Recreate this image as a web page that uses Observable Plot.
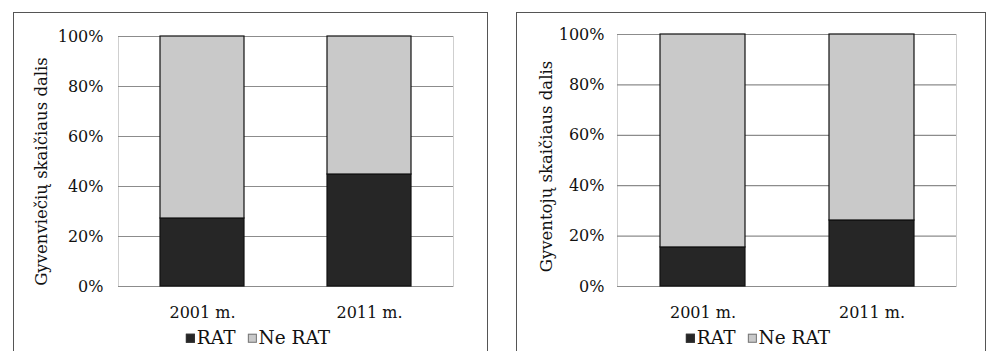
<!DOCTYPE html>
<html>
<head>
<meta charset="utf-8">
<script src="https://cdn.jsdelivr.net/npm/d3@7"></script>
<script src="https://cdn.jsdelivr.net/npm/@observablehq/plot@0.6"></script>
<style>
  html, body { margin: 0; padding: 0; background: #fff; }
  body { width: 987px; height: 351px; position: relative; overflow: hidden; font-family: "DejaVu Serif", serif; }
  .frame { position: absolute; border: 1px solid #555; box-sizing: border-box; }
  .chart { position: absolute; top: 0; }
  .legend { position: absolute; font-size: 18.5px; color: #111; white-space: nowrap; transform: translate(-50%, -50%); line-height: 1; }
  .sw { display: inline-block; width: 9px; height: 9px; box-sizing: border-box; border: 1px solid #333; margin-right: 2px; vertical-align: 1px; }
</style>
</head>
<body>
<div class="frame" style="left:13px; top:12px; width:475px; height:360px;"></div>
<div class="frame" style="left:516px; top:12px; width:470px; height:360px;"></div>
<div id="c1" class="chart" style="left:0px; width:494px;"></div>
<div id="c2" class="chart" style="left:494px; width:493px;"></div>
<div class="legend" id="lg1" style="left:258px; top:338px;"></div>
<div class="legend" id="lg2" style="left:758px; top:338px;"></div>
<script>
// Data
const years = ["2001 m.", "2011 m."];
const types = ["RAT", "Ne RAT"];
const settlementsRAT = [27.2, 44.8];
const settlementsNeRAT = [72.8, 55.2];
const populationRAT = [15.5, 26.2];
const populationNeRAT = [84.5, 73.8];
const yTicks = [0, 20, 40, 60, 80, 100];
const titles = ["Gyvenviečių skaičiaus dalis", "Gyventojų skaičiaus dalis"];
const colors = ["#262626", "#c9c9c9"];

function tidy(rat, nerat) {
  const out = [];
  years.forEach((y, i) => {
    out.push({year: y, type: types[0], value: rat[i]});
    out.push({year: y, type: types[1], value: nerat[i]});
  });
  return out;
}

const FONT = "'DejaVu Serif', serif";

function chart(data, title, opts) {
  return Plot.plot({
    width: opts.width,
    height: 325,
    marginLeft: opts.ml,
    marginRight: opts.mr,
    marginTop: opts.mt,
    marginBottom: 325 - 286,
    style: {background: "none", fontFamily: FONT, fontSize: "16px", color: "#111", overflow: "visible"},
    x: {domain: years, paddingInner: 0.5, paddingOuter: 0.25, label: null, tickSize: 0, tickPadding: 20},
    y: {domain: [0, 100], ticks: yTicks, tickFormat: d => d + "%", label: null, tickSize: 0, tickPadding: opts.tp},
    color: {domain: types, range: colors},
    marks: [
      Plot.frame({stroke: "#cfcfcf"}),
      Plot.ruleY(yTicks, {stroke: "#8c8c8c", strokeWidth: 1.2}),
      Plot.barY(data, {x: "year", y: "value", fill: "type", stroke: "#111", strokeWidth: 1.2, order: types}),
      Plot.text([title], {text: d => d, frameAnchor: "left", textAnchor: "middle", rotate: -90, dx: opts.tdx, dy: opts.tdy, fontSize: 16.5, fill: "#111"})
    ]
  });
}

const p1 = chart(tidy(settlementsRAT, settlementsNeRAT), titles[0], {width: 494, ml: 118, mr: 41, mt: 36, tp: 15, tdx: -77, tdy: 10});
const p2 = chart(tidy(populationRAT, populationNeRAT), titles[1], {width: 493, ml: 123, mr: 31, mt: 34, tp: 13, tdx: -71, tdy: 6});
document.getElementById("c1").appendChild(p1);
document.getElementById("c2").appendChild(p2);

function legend(id) {
  const el = document.getElementById(id);
  el.innerHTML = types.map((t, i) =>
    `<span style="margin-right:${i === 0 ? 12 : 0}px"><span class="sw" style="background:${colors[i]}; ${i === 1 ? 'border-color:#777;' : ''}"></span>${t}</span>`
  ).join("");
}
legend("lg1");
legend("lg2");
</script>
</body>
</html>
